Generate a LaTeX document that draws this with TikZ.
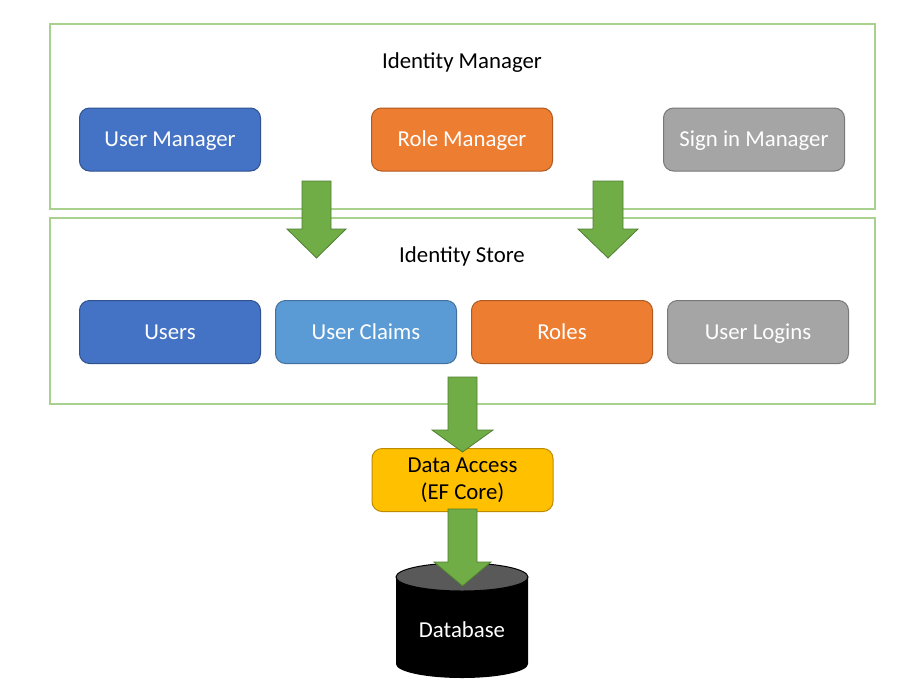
\documentclass[tikz,border=0pt]{standalone}
\usepackage{fontspec}
\setmainfont{Carlito}
\definecolor{frameg}{HTML}{A9D18E}
\definecolor{arrg}{HTML}{70AD47}
\definecolor{arrgd}{HTML}{507E32}
\definecolor{cblue}{HTML}{4472C4}
\definecolor{cblued}{HTML}{2F528F}
\definecolor{clblue}{HTML}{5B9BD5}
\definecolor{clblued}{HTML}{41719C}
\definecolor{corange}{HTML}{ED7D31}
\definecolor{coranged}{HTML}{AE5A21}
\definecolor{cgray}{HTML}{A5A5A5}
\definecolor{cgrayd}{HTML}{787878}
\definecolor{cyellow}{HTML}{FFC000}
\definecolor{cyellowd}{HTML}{BC8C00}
\definecolor{cdbtop}{HTML}{595959}
\begin{document}
\begin{tikzpicture}[x=1pt,y=-1pt,
  frame/.style={draw=frameg,line width=1.5pt},
  boxnode/.style={rounded corners=10pt,line width=1pt,minimum width=181pt,minimum height=63pt,
    text=white,font=\fontsize{22.8}{27}\selectfont,inner sep=0pt,text height=18.6pt,text depth=4pt},
  titletext/.style={font=\fontsize{22.8}{27}\selectfont,text=black,inner sep=0pt,text height=18.6pt,text depth=4pt},
  blockarrow/.style={fill=arrg,draw=arrgd,line width=0.8pt,line join=miter}]
\useasboundingbox (0,0) rectangle (922,689);
% frames
\draw[frame] (50,24) rectangle (875,209);
\draw[frame] (50,218) rectangle (875,404);
\node[titletext] (tim) at (462,61) {Identity Manager};
\node[titletext] (tis) at (462,255) {Identity Store};
% top row
\node[boxnode,fill=cblue,draw=cblued] (um) at (170,139.5) {User Manager};
\node[boxnode,fill=corange,draw=coranged] (rm) at (462,139.5) {Role Manager};
\node[boxnode,fill=cgray,draw=cgrayd] (sm) at (754,139.5) {Sign in Manager};
% second row
\node[boxnode,fill=cblue,draw=cblued] (us) at (170,332) {Users};
\node[boxnode,fill=clblue,draw=clblued] (uc) at (366,332) {User Claims};
\node[boxnode,fill=corange,draw=coranged] (ro) at (562,332) {Roles};
\node[boxnode,fill=cgray,draw=cgrayd] (ul) at (758,332) {User Logins};
% data access
\node[rounded corners=10pt,line width=1pt,minimum width=181pt,minimum height=63pt,inner sep=0pt,
  fill=cyellow,draw=cyellowd,text=black,align=center,
  font=\fontsize{22.8}{27}\selectfont] (da) at (462.5,480) {Data Access\\(EF Core)};
% database cylinder
\fill[black] (396,577) -- (396,664) arc[start angle=180,end angle=0,x radius=66,y radius=14] -- (528,577) -- cycle;
\draw[black,fill=cdbtop,line width=1pt] (462,577) ellipse[x radius=66,y radius=14];
\node[text=white,font=\fontsize{22.8}{27}\selectfont] (db) at (462,630) {Database};
% arrows
\draw[blockarrow] (302,181) -- (331,181) -- (331,229) -- (346,229) -- (316.5,258) -- (287,229) -- (302,229) -- cycle;
\draw[blockarrow] (593,181) -- (623,181) -- (623,229) -- (638,229) -- (608,258) -- (578,229) -- (593,229) -- cycle;
\draw[blockarrow] (448,377) -- (477,377) -- (477,430) -- (493,430) -- (462.5,452) -- (432,430) -- (448,430) -- cycle;
\draw[blockarrow] (448,509) -- (477,509) -- (477,562) -- (491,562) -- (462.5,586) -- (434,562) -- (448,562) -- cycle;
\end{tikzpicture}
\end{document}
